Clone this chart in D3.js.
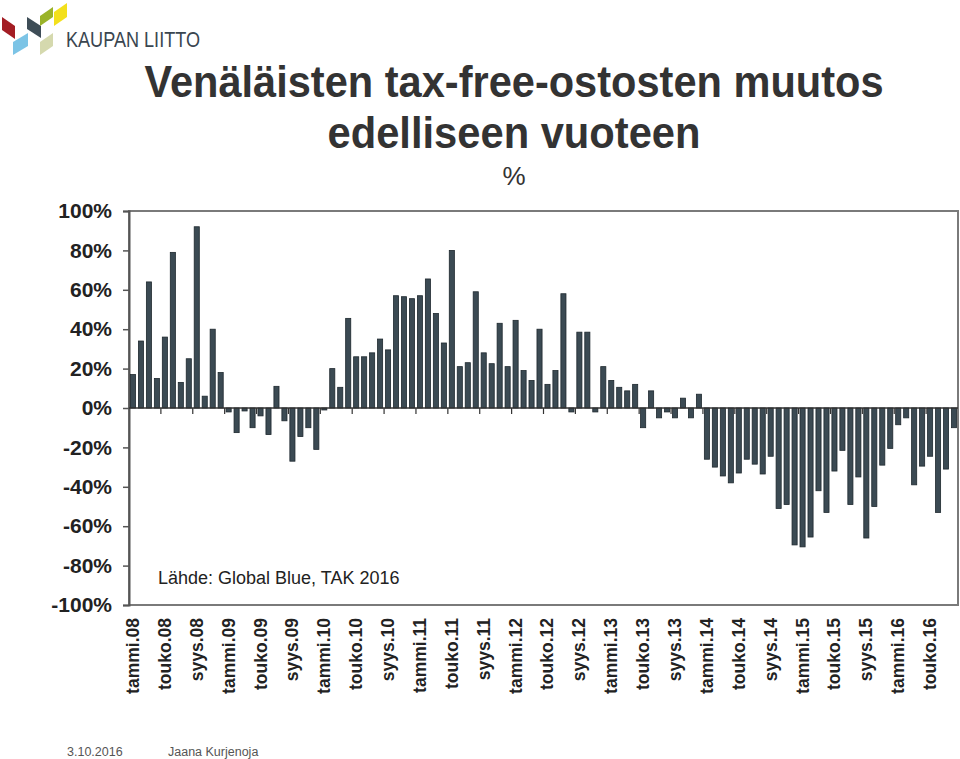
<!DOCTYPE html>
<html>
<head>
<meta charset="utf-8">
<script src="https://cdn.jsdelivr.net/npm/d3@7"></script>
<style>
  html, body { margin: 0; padding: 0; background: #ffffff; }
  svg { display: block; }
  text { font-family: "Liberation Sans", Arial, Helvetica, sans-serif; }
</style>
</head>
<body>
<svg id="chart" width="960" height="759"></svg>
<script>
// ---- Data ----
const monthNames = ["tammi","helmi","maalis","huhti","touko","kesä","heinä","elo","syys","loka","marras","joulu"];
const years = ["08","09","10","11","12","13","14","15","16"];
const values2008 = [17, 34, 64, 15, 36, 79, 13, 25, 92, 6, 40, 18];
const values2009 = [-2, -12.5, -1.5, -10, -4, -13.5, 11, -6.5, -27, -14.5, -10, -21];
const values2010 = [-1, 20, 10.5, 45.5, 26, 26, 28, 35, 29.5, 57, 56.5, 55.5];
const values2011 = [57, 65.5, 48, 33, 80, 21, 23, 59, 28, 22.5, 43, 21];
const values2012 = [44.5, 19, 14, 40, 12, 19, 58, -2, 38.5, 38.5, -2, 21];
const values2013 = [14, 10.5, 8.7, 12, -10, 8.7, -5, -2, -5, 5, -5, 7];
const values2014 = [-26, -30, -34.5, -38, -33, -26, -28.5, -33.5, -24.5, -51, -49, -69.5];
const values2015 = [-70.5, -65.5, -42, -53, -32, -21.5, -49, -35, -66, -50, -29, -20.5];
const values2016 = [-8.5, -5, -39, -29.5, -24.5, -53, -31, -10];
const yTicks = [-100, -80, -60, -40, -20, 0, 20, 40, 60, 80, 100];

const titleLines = ["Venäläisten tax-free-ostosten muutos", "edelliseen vuoteen"];
const unitLabel = "%";
const sourceText = "Lähde: Global Blue, TAK 2016";
const footerDate = "3.10.2016";
const footerAuthor = "Jaana Kurjenoja";
const logoText = "KAUPAN LIITTO";

// Build table
const allValues = [].concat(values2008, values2009, values2010, values2011, values2012, values2013, values2014, values2015, values2016);
const data = allValues.map((v, i) => ({
  cat: monthNames[i % 12] + "." + years[Math.floor(i / 12)],
  value: v,
  labeled: i % 4 === 0
}));

// ---- Layout ----
const svg = d3.select("#chart");
const plot = { left: 129, right: 958, top: 211, bottom: 605 };

const x = d3.scaleBand()
  .domain(data.map(d => d.cat))
  .range([plot.left, plot.right])
  .paddingInner(0.36)
  .paddingOuter(0.18);

const y = d3.scaleLinear()
  .domain([-100, 100])
  .range([plot.bottom, plot.top]);

// ---- Logo ----
const logo = svg.append("g").attr("class", "logo");
const logoShapes = [
  { c: "#a31d24", p: [[2,17],[15,26],[15,39],[2,30]] },
  { c: "#7cc4e6", p: [[13,42],[28,33],[28,46],[13,55]] },
  { c: "#3e4d57", p: [[27,17],[41,26],[41,38],[27,29]] },
  { c: "#d5d9ae", p: [[40,42],[53,33],[53,46],[40,55]] },
  { c: "#9ab329", p: [[40,16],[53,7],[53,17],[40,26]] },
  { c: "#f3e01c", p: [[54,12],[67,3],[67,17],[54,26]] }
];
logoShapes.forEach(s => {
  logo.append("polygon")
    .attr("points", s.p.map(q => q.join(",")).join(" "))
    .attr("fill", s.c);
});
logo.append("text")
  .attr("x", 66).attr("y", 47)
  .attr("font-size", 22)
  .attr("fill", "#3a4650")
  .attr("textLength", 134)
  .attr("lengthAdjust", "spacingAndGlyphs")
  .text(logoText);

// ---- Title ----
svg.append("text")
  .attr("x", 514).attr("y", 97)
  .attr("text-anchor", "middle")
  .attr("font-size", 44).attr("font-weight", "bold")
  .attr("fill", "#333333")
  .attr("textLength", 739).attr("lengthAdjust", "spacingAndGlyphs")
  .text(titleLines[0]);
svg.append("text")
  .attr("x", 514).attr("y", 148)
  .attr("text-anchor", "middle")
  .attr("font-size", 44).attr("font-weight", "bold")
  .attr("fill", "#333333")
  .attr("textLength", 373).attr("lengthAdjust", "spacingAndGlyphs")
  .text(titleLines[1]);
svg.append("text")
  .attr("x", 514).attr("y", 185)
  .attr("text-anchor", "middle")
  .attr("font-size", 26)
  .attr("fill", "#333333")
  .text(unitLabel);

// ---- Plot frame ----
svg.append("rect")
  .attr("x", plot.left).attr("y", plot.top)
  .attr("width", plot.right - plot.left).attr("height", plot.bottom - plot.top)
  .attr("fill", "none")
  .attr("stroke", "#7a7a7a").attr("stroke-width", 2);

// ---- Y axis ----
const yAxis = svg.append("g")
  .attr("transform", `translate(${plot.left},0)`)
  .call(d3.axisLeft(y).tickValues(yTicks).tickSize(6).tickPadding(11).tickFormat(d => d + "%"));
yAxis.select(".domain").attr("stroke", "#555").attr("stroke-width", 2);
yAxis.selectAll(".tick line").attr("stroke", "#555").attr("stroke-width", 1.5);
yAxis.selectAll(".tick text")
  .attr("font-size", 21)
  .attr("font-weight", "bold")
  .attr("font-family", "'Liberation Sans', Arial, sans-serif")
  .attr("fill", "#222");

// ---- Bars ----
svg.append("g").selectAll("rect")
  .data(data)
  .join("rect")
  .attr("x", d => x(d.cat))
  .attr("width", x.bandwidth())
  .attr("y", d => y(Math.max(0, d.value)))
  .attr("height", d => Math.abs(y(d.value) - y(0)))
  .attr("fill", "#3b4a53")
  .attr("stroke", "#1e282e")
  .attr("stroke-width", 0.8);

// ---- Zero line with category tick marks ----
svg.append("line")
  .attr("x1", plot.left).attr("x2", plot.right)
  .attr("y1", y(0)).attr("y2", y(0))
  .attr("stroke", "#333").attr("stroke-width", 1.5);
const gap = x.step() * x.paddingInner() / 2;
svg.append("g").selectAll("line")
  .data(data.filter((d, i) => d.labeled && i > 0))
  .join("line")
  .attr("x1", d => x(d.cat) - gap).attr("x2", d => x(d.cat) - gap)
  .attr("y1", y(0)).attr("y2", y(0) + 6)
  .attr("stroke", "#333").attr("stroke-width", 1.2);

// ---- X labels (low position) ----
const xAxis = svg.append("g")
  .attr("transform", `translate(0,${plot.bottom})`)
  .call(d3.axisBottom(x).tickValues(data.filter(d => d.labeled).map(d => d.cat)).tickSize(0).tickPadding(0));
xAxis.select(".domain").remove();
xAxis.selectAll(".tick text")
  .attr("font-size", 17.5)
  .attr("font-weight", "bold")
  .attr("font-family", "'Liberation Sans', Arial, sans-serif")
  .attr("fill", "#222")
  .attr("text-anchor", "end")
  .attr("dominant-baseline", "central")
  .attr("dy", null)
  .attr("y", 0)
  .attr("transform", "translate(0,13) rotate(-90)");

// ---- Source note ----
svg.append("text")
  .attr("x", 158).attr("y", 584)
  .attr("font-size", 18)
  .attr("fill", "#222")
  .text(sourceText);

// ---- Footer ----
svg.append("text")
  .attr("x", 67).attr("y", 756)
  .attr("font-size", 12.5)
  .attr("fill", "#555")
  .text(footerDate);
svg.append("text")
  .attr("x", 168).attr("y", 756)
  .attr("font-size", 12.5)
  .attr("fill", "#555")
  .text(footerAuthor);
</script>
</body>
</html>
